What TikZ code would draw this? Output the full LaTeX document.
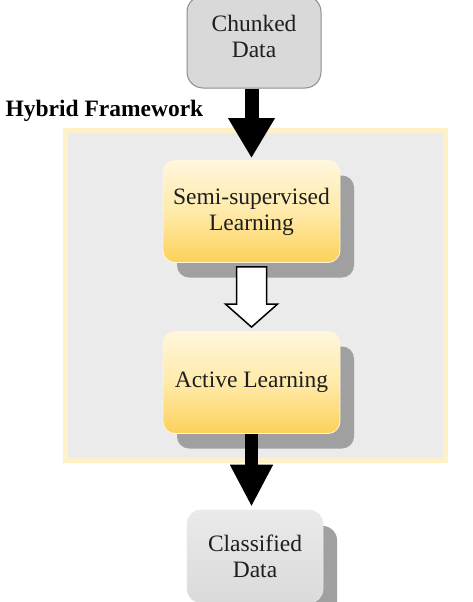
\documentclass[tikz,border=0pt]{standalone}
\usepackage{fontspec}
\setmainfont{Liberation Serif}
\usetikzlibrary{arrows.meta,shadows,calc}
\definecolor{frameFill}{HTML}{EBEBEB}
\definecolor{frameLine}{HTML}{FFF0C8}
\definecolor{yTop}{HTML}{FFF6DC}
\definecolor{yMid}{HTML}{FFEAAA}
\definecolor{yBot}{HTML}{FCD15A}
\definecolor{shadowGray}{HTML}{A0A0A0}
\definecolor{dataGray}{HTML}{D9D9D9}
\definecolor{dataLine}{HTML}{8C8C8C}
\definecolor{clsTop}{HTML}{EAEAEA}
\definecolor{clsBot}{HTML}{DADADA}
\definecolor{txt}{HTML}{1E1E1E}
\begin{document}
\begin{tikzpicture}[x=1pt,y=-1pt,
  txtfont/.style={font=\fontsize{23.5}{26}\selectfont, text=txt, align=center},
  framebox/.style={rectangle, fill=frameFill, draw=frameLine, line width=5pt,
    minimum width=380pt, minimum height=330pt, inner sep=0pt},
  yellowbox/.style={txtfont, rectangle, rounded corners=12pt, minimum width=177pt,
    minimum height=102pt, inner sep=0pt, top color=yTop, bottom color=yBot,
    middle color=yMid, draw=yTop, line width=0.8pt,
    general shadow={shadow xshift=14pt, shadow yshift=-15pt, fill=shadowGray}},
  chunkbox/.style={rectangle, rounded corners=16pt, minimum width=134pt,
    minimum height=92pt, inner sep=0pt, fill=dataGray, draw=dataLine, line width=1pt},
  clsbox/.style={txtfont, rectangle, rounded corners=14pt, minimum width=136pt,
    minimum height=93pt, inner sep=0pt, top color=clsTop, bottom color=clsBot,
    draw=clsTop, line width=0.6pt,
    general shadow={shadow xshift=14pt, shadow yshift=-16pt, fill=shadowGray}},
  bigarrow/.style={draw=black, line width=14pt, -{Triangle[width=44pt,length=40pt]}},
  lowarrow/.style={draw=black, line width=13pt, -{Triangle[width=40pt,length=42pt]}},
  hollowarrow/.style={draw=black, fill=white, line width=1.5pt, line join=miter}
]
\useasboundingbox (0,0) rectangle (473,602);
\clip (0,0) rectangle (473,602);

\node[framebox] (frame) at (255.5,295.5) {};
\node[anchor=base west, font=\fontsize{23.5}{26}\selectfont\bfseries, text=black]
  (framelabel) at (2,116) {Hybrid Framework};

\node[chunkbox] (chunk) at (254,42) {};
\node[txtfont] (chunktext) at (254,36) {Chunked\\Data};

\node[yellowbox] (semi) at (251.5,211.5) {Semi-supervised\\Learning};
\node[yellowbox] (active) at (251.5,382.5) {Active Learning};
\node[clsbox] (cls) at (255,556.5) {Classified\\Data};

\draw[bigarrow, shorten >=2pt] (semi.north |- chunk.south) -- (semi.north);
\draw[lowarrow, shorten >=3pt] (active.south) -- (active.south |- cls.north);

\draw[hollowarrow]
  ([shift={(-15pt,-4pt)}]semi.south)
  -- ([shift={(-15pt,27pt)}]active.north)
  -- ([shift={(-26pt,27pt)}]active.north)
  -- ([yshift=4pt]active.north)
  -- ([shift={(26pt,27pt)}]active.north)
  -- ([shift={(15pt,27pt)}]active.north)
  -- ([shift={(15pt,-4pt)}]semi.south)
  -- cycle;
\end{tikzpicture}
\end{document}
